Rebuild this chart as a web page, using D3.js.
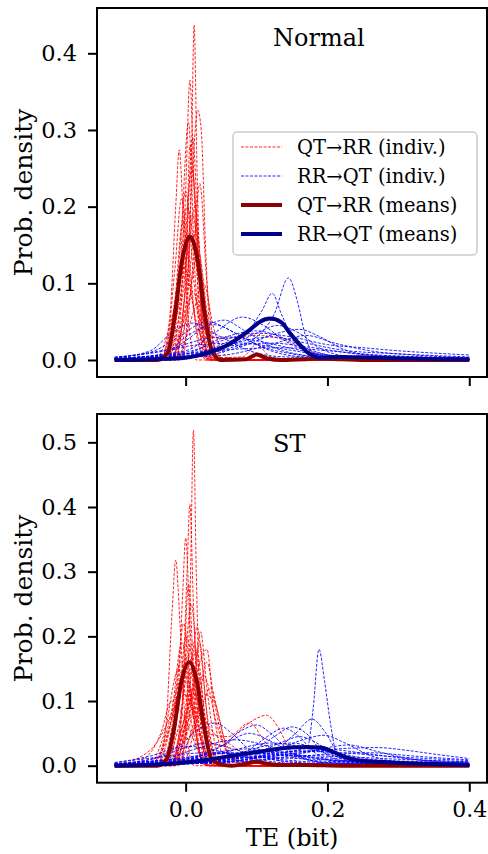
<!DOCTYPE html>
<html>
<head>
<meta charset="utf-8">
<script src="https://cdn.jsdelivr.net/npm/d3@7"></script>
<style>
  body { margin: 0; background: #fff; }
</style>
</head>
<body>
<div id="chart"></div>
<script>
var W = 488, H = 854;
var FONT = "'DejaVu Serif', 'Liberation Serif', serif";

// x ticks and y ticks
var xTicks = [0.0, 0.2, 0.4];
var yTicksTop = [0.0, 0.1, 0.2, 0.3, 0.4];
var yTicksBot = [0.0, 0.1, 0.2, 0.3, 0.4, 0.5];
var panelTitles = ["Normal", "ST"];
var legendLabels = ["QT\u2192RR (indiv.)", "RR\u2192QT (indiv.)", "QT\u2192RR (means)", "RR\u2192QT (means)"];

// ---- top panel (Normal): individual densities ----
var topRed = [
  [[-0.1,0],[-0.01,0],[0.0,0.03],[0.008,0.25],[0.012,0.437],[0.016,0.25],[0.024,0.03],[0.035,0],[0.4,0]],
  [[-0.1,0],[-0.02,0],[-0.008,0.05],[0.0,0.22],[0.006,0.365],[0.012,0.22],[0.02,0.05],[0.032,0],[0.4,0]],
  [[-0.1,0],[-0.01,0],[0.0,0.06],[0.01,0.25],[0.017,0.326],[0.022,0.3],[0.028,0.15],[0.036,0.02],[0.05,0],[0.4,0]],
  [[-0.1,0],[-0.035,0],[-0.022,0.06],[-0.014,0.2],[-0.009,0.274],[-0.004,0.2],[0.004,0.05],[0.015,0],[0.4,0]],
  [[-0.1,0],[-0.025,0],[-0.01,0.08],[0.004,0.31],[0.014,0.1],[0.03,0],[0.4,0]],
  [[-0.1,0],[-0.02,0],[-0.005,0.1],[0.009,0.25],[0.02,0.1],[0.035,0.005],[0.05,0],[0.4,0]],
  [[-0.1,0],[-0.03,0.005],[-0.012,0.1],[0.0,0.22],[0.012,0.1],[0.028,0.005],[0.045,0],[0.4,0]],
  [[-0.1,0],[-0.02,0],[0.0,0.09],[0.013,0.2],[0.025,0.08],[0.04,0.005],[0.055,0],[0.4,0]],
  [[-0.1,0],[-0.035,0.003],[-0.015,0.08],[-0.004,0.18],[0.008,0.09],[0.025,0.005],[0.04,0],[0.4,0]],
  [[-0.1,0],[-0.03,0.005],[-0.01,0.07],[0.008,0.16],[0.025,0.06],[0.045,0.005],[0.06,0],[0.4,0]],
  [[-0.1,0],[-0.02,0.002],[0.0,0.05],[0.018,0.14],[0.032,0.05],[0.05,0.003],[0.065,0],[0.4,0]],
  [[-0.1,0],[-0.04,0.004],[-0.018,0.06],[-0.002,0.12],[0.015,0.05],[0.035,0.004],[0.05,0],[0.4,0]],
  [[-0.1,0],[-0.015,0],[-0.002,0.08],[0.01,0.29],[0.02,0.1],[0.032,0.005],[0.045,0],[0.4,0]],
  [[-0.1,0],[-0.02,0.002],[0.0,0.06],[0.01,0.09],[0.025,0.04],[0.05,0.028],[0.1,0.032],[0.14,0.026],[0.17,0.014],[0.2,0.004],[0.25,0],[0.4,0]],
  [[-0.1,0],[-0.025,0.002],[-0.005,0.08],[0.01,0.19],[0.025,0.05],[0.045,0.003],[0.08,0.004],[0.1,0.02],[0.12,0.004],[0.15,0],[0.4,0]],
  [[-0.1,0],[-0.005,0.002],[0.01,0.12],[0.02,0.23],[0.03,0.1],[0.045,0.003],[0.06,0],[0.4,0]],
  [[-0.1,0],[-0.01,0.005],[0.01,0.06],[0.025,0.1],[0.04,0.04],[0.06,0.003],[0.08,0],[0.4,0]],
  [[-0.1,0],[-0.025,0.002],[-0.01,0.09],[0.002,0.2],[0.012,0.15],[0.025,0.03],[0.04,0],[0.4,0]],
  [[-0.1,0],[-0.015,0.002],[0.0,0.1],[0.006,0.28],[0.014,0.2],[0.024,0.04],[0.036,0],[0.4,0]],
  [[-0.1,0],[-0.02,0.004],[0.0,0.07],[0.015,0.17],[0.022,0.12],[0.035,0.02],[0.05,0.003],[0.07,0],[0.4,0]],
  [[-0.1,0],[-0.03,0.004],[-0.015,0.12],[-0.006,0.21],[0.004,0.14],[0.018,0.02],[0.03,0],[0.4,0]]
];

var topBlue = [
  [[-0.1,0.001],[0.0,0.004],[0.06,0.015],[0.1,0.03],[0.125,0.06],[0.145,0.107],[0.158,0.075],[0.168,0.035],[0.18,0.008],[0.22,0.002],[0.4,0.001]],
  [[-0.1,0.001],[0.0,0.005],[0.05,0.02],[0.09,0.04],[0.108,0.065],[0.122,0.087],[0.135,0.06],[0.15,0.03],[0.17,0.012],[0.2,0.004],[0.4,0.001]],
  [[-0.1,0.004],[-0.05,0.01],[-0.01,0.03],[0.03,0.05],[0.07,0.035],[0.1,0.02],[0.15,0.008],[0.2,0.003],[0.4,0.001]],
  [[-0.1,0.003],[-0.05,0.012],[-0.02,0.035],[0.01,0.048],[0.05,0.03],[0.09,0.012],[0.14,0.004],[0.4,0.001]],
  [[-0.1,0.002],[-0.03,0.008],[0.0,0.025],[0.03,0.045],[0.055,0.052],[0.08,0.04],[0.12,0.018],[0.17,0.006],[0.25,0.002],[0.4,0.001]],
  [[-0.1,0.002],[0.0,0.012],[0.04,0.035],[0.08,0.056],[0.11,0.045],[0.14,0.025],[0.18,0.01],[0.25,0.003],[0.4,0.001]],
  [[-0.1,0.002],[0.0,0.01],[0.05,0.025],[0.1,0.035],[0.15,0.03],[0.2,0.02],[0.25,0.016],[0.3,0.012],[0.35,0.009],[0.4,0.0065]],
  [[-0.1,0.001],[0.0,0.006],[0.06,0.02],[0.12,0.03],[0.17,0.022],[0.22,0.013],[0.3,0.008],[0.4,0.004]],
  [[-0.1,0.001],[0.0,0.004],[0.06,0.018],[0.1,0.035],[0.13,0.045],[0.16,0.035],[0.19,0.015],[0.23,0.005],[0.4,0.001]],
  [[-0.1,0.001],[0.02,0.005],[0.08,0.018],[0.13,0.035],[0.16,0.04],[0.19,0.03],[0.22,0.015],[0.27,0.005],[0.4,0.001]],
  [[-0.1,0.003],[-0.02,0.015],[0.03,0.028],[0.06,0.03],[0.1,0.025],[0.15,0.015],[0.2,0.006],[0.3,0.002],[0.4,0.001]],
  [[-0.1,0.001],[0.0,0.008],[0.05,0.028],[0.1,0.038],[0.14,0.028],[0.18,0.012],[0.22,0.004],[0.4,0.001]],
  [[-0.1,0.002],[0.0,0.008],[0.06,0.018],[0.12,0.022],[0.18,0.016],[0.24,0.008],[0.32,0.004],[0.4,0.002]],
  [[-0.1,0.001],[-0.03,0.008],[0.0,0.03],[0.04,0.046],[0.08,0.03],[0.12,0.012],[0.17,0.004],[0.4,0.001]],
  [[-0.1,0.001],[0.05,0.006],[0.12,0.02],[0.17,0.032],[0.21,0.022],[0.26,0.012],[0.33,0.006],[0.4,0.003]],
  [[-0.1,0.002],[0.0,0.008],[0.07,0.014],[0.14,0.016],[0.2,0.012],[0.28,0.006],[0.4,0.003]],
  [[-0.1,0.003],[-0.04,0.01],[0.02,0.02],[0.08,0.022],[0.14,0.014],[0.2,0.006],[0.4,0.001]]
];

var topRedMean = [[-0.1,0],[-0.04,0],[-0.025,0.01],[-0.015,0.06],[-0.005,0.13],[0.006,0.161],[0.017,0.13],[0.027,0.06],[0.037,0.012],[0.05,0],[0.085,0.001],[0.1,0.007],[0.115,0.002],[0.135,0],[0.17,0.001],[0.19,0.002],[0.22,0.001],[0.26,0],[0.4,0]];
var topBlueMean = [[-0.1,0],[-0.05,0.001],[0.0,0.003],[0.03,0.009],[0.06,0.02],[0.09,0.039],[0.105,0.05],[0.119,0.054],[0.135,0.049],[0.147,0.035],[0.161,0.02],[0.176,0.007],[0.19,0.003],[0.22,0.004],[0.26,0.003],[0.3,0.002],[0.4,0.001]];

// ---- bottom panel (ST) ----
var botRed = [
  [[-0.1,0],[-0.01,0],[0.0,0.05],[0.007,0.3],[0.011,0.519],[0.015,0.3],[0.022,0.05],[0.032,0],[0.4,0]],
  [[-0.1,0],[-0.02,0],[-0.006,0.08],[0.002,0.3],[0.006,0.404],[0.011,0.25],[0.02,0.05],[0.03,0],[0.4,0]],
  [[-0.1,0],[-0.025,0],[-0.012,0.08],[-0.004,0.27],[0.0,0.352],[0.006,0.22],[0.016,0.04],[0.028,0],[0.4,0]],
  [[-0.1,0],[-0.04,0],[-0.028,0.06],[-0.019,0.24],[-0.014,0.318],[-0.008,0.22],[0.0,0.06],[0.012,0],[0.4,0]],
  [[-0.1,0],[-0.015,0],[0.0,0.07],[0.01,0.17],[0.016,0.215],[0.024,0.15],[0.034,0.04],[0.048,0],[0.4,0]],
  [[-0.1,0],[-0.01,0.002],[0.005,0.08],[0.015,0.17],[0.021,0.207],[0.03,0.12],[0.042,0.03],[0.055,0],[0.4,0]],
  [[-0.1,0],[-0.04,0.002],[-0.022,0.06],[-0.005,0.19],[0.008,0.1],[0.022,0.01],[0.035,0],[0.4,0]],
  [[-0.1,0],[-0.045,0.004],[-0.02,0.07],[0.004,0.17],[0.02,0.08],[0.038,0.008],[0.05,0],[0.4,0]],
  [[-0.1,0],[-0.05,0.005],[-0.03,0.05],[-0.01,0.15],[0.005,0.08],[0.025,0.005],[0.04,0],[0.4,0]],
  [[-0.1,0],[-0.02,0.002],[0.0,0.03],[0.02,0.08],[0.035,0.12],[0.048,0.07],[0.06,0.02],[0.08,0.003],[0.1,0],[0.4,0]],
  [[-0.1,0],[-0.07,0.01],[-0.04,0.037],[-0.02,0.08],[-0.002,0.13],[0.015,0.07],[0.035,0.01],[0.06,0],[0.4,0]],
  [[-0.1,0],[-0.02,0.003],[0.0,0.06],[0.015,0.09],[0.03,0.04],[0.05,0.03],[0.072,0.05],[0.095,0.07],[0.114,0.078],[0.13,0.06],[0.145,0.028],[0.155,0.008],[0.17,0],[0.4,0]],
  [[-0.1,0],[-0.02,0.004],[0.0,0.08],[0.012,0.11],[0.03,0.05],[0.06,0.045],[0.09,0.066],[0.11,0.04],[0.13,0.01],[0.15,0],[0.4,0]],
  [[-0.1,0],[-0.02,0.002],[-0.006,0.08],[0.008,0.25],[0.02,0.08],[0.034,0.004],[0.045,0],[0.4,0]],
  [[-0.1,0],[-0.025,0.002],[0.0,0.07],[0.015,0.18],[0.028,0.07],[0.045,0.005],[0.06,0],[0.4,0]],
  [[-0.1,0],[-0.015,0],[-0.004,0.1],[0.004,0.28],[0.013,0.1],[0.024,0.004],[0.035,0],[0.4,0]],
  [[-0.1,0],[-0.02,0.003],[0.005,0.06],[0.025,0.14],[0.045,0.06],[0.065,0.008],[0.09,0],[0.4,0]],
  [[-0.1,0],[-0.06,0.01],[-0.035,0.05],[-0.02,0.1],[0.0,0.07],[0.02,0.02],[0.045,0.002],[0.06,0],[0.4,0]],
  [[-0.1,0],[-0.03,0.002],[-0.015,0.08],[-0.003,0.22],[0.01,0.09],[0.025,0.005],[0.04,0],[0.4,0]],
  [[-0.1,0],[-0.005,0.003],[0.015,0.07],[0.03,0.16],[0.042,0.09],[0.055,0.03],[0.07,0.01],[0.1,0.004],[0.13,0],[0.4,0]],
  [[-0.1,0],[-0.035,0.003],[-0.018,0.07],[-0.008,0.16],[0.004,0.12],[0.018,0.03],[0.03,0],[0.4,0]],
  [[-0.1,0],[-0.03,0.002],[-0.01,0.06],[0.01,0.19],[0.022,0.12],[0.035,0.02],[0.05,0],[0.4,0]],
  [[-0.1,0],[-0.02,0.003],[0.0,0.05],[0.02,0.16],[0.03,0.18],[0.04,0.08],[0.055,0.01],[0.07,0],[0.4,0]],
  [[-0.1,0],[-0.045,0.005],[-0.025,0.06],[-0.012,0.12],[0.0,0.14],[0.012,0.09],[0.03,0.01],[0.045,0],[0.4,0]],
  [[-0.1,0],[-0.02,0.003],[0.0,0.09],[0.006,0.15],[0.014,0.13],[0.025,0.06],[0.04,0.015],[0.06,0.002],[0.08,0],[0.4,0]],
  [[-0.1,0],[-0.03,0.003],[-0.008,0.11],[0.0,0.2],[0.008,0.17],[0.02,0.05],[0.035,0.003],[0.05,0],[0.4,0]],
  [[-0.1,0],[-0.01,0.003],[0.01,0.06],[0.025,0.11],[0.04,0.1],[0.055,0.04],[0.075,0.008],[0.1,0],[0.4,0]],
  [[-0.1,0],[-0.05,0.004],[-0.03,0.03],[-0.015,0.09],[0.0,0.11],[0.015,0.06],[0.035,0.01],[0.06,0],[0.4,0]],
  [[-0.1,0],[-0.025,0.002],[-0.005,0.06],[0.012,0.13],[0.02,0.19],[0.028,0.1],[0.04,0.02],[0.055,0],[0.4,0]],
  [[-0.1,0],[-0.015,0.002],[0.0,0.06],[0.01,0.12],[0.02,0.09],[0.04,0.05],[0.06,0.035],[0.08,0.02],[0.1,0.006],[0.12,0],[0.4,0]]
];

var botBlue = [
  [[-0.1,0.001],[0.0,0.004],[0.08,0.012],[0.14,0.02],[0.172,0.03],[0.18,0.09],[0.188,0.18],[0.196,0.13],[0.205,0.06],[0.213,0.02],[0.24,0.008],[0.3,0.004],[0.4,0.002]],
  [[-0.1,0.001],[0.05,0.005],[0.12,0.02],[0.155,0.05],[0.178,0.072],[0.198,0.05],[0.215,0.02],[0.25,0.006],[0.4,0.001]],
  [[-0.1,0.001],[0.03,0.006],[0.09,0.025],[0.115,0.045],[0.138,0.058],[0.16,0.045],[0.18,0.022],[0.21,0.007],[0.4,0.001]],
  [[-0.1,0.002],[0.0,0.01],[0.05,0.03],[0.08,0.055],[0.1,0.063],[0.12,0.05],[0.145,0.025],[0.18,0.008],[0.4,0.001]],
  [[-0.1,0.003],[-0.05,0.01],[-0.01,0.03],[0.02,0.058],[0.042,0.066],[0.065,0.05],[0.09,0.025],[0.13,0.008],[0.2,0.002],[0.4,0.001]],
  [[-0.1,0.001],[0.03,0.005],[0.09,0.02],[0.125,0.045],[0.15,0.06],[0.17,0.05],[0.19,0.025],[0.22,0.008],[0.4,0.001]],
  [[-0.1,0.001],[0.05,0.006],[0.12,0.014],[0.18,0.022],[0.23,0.027],[0.27,0.028],[0.31,0.024],[0.35,0.018],[0.4,0.011]],
  [[-0.1,0.001],[0.05,0.005],[0.12,0.02],[0.165,0.04],[0.195,0.047],[0.225,0.035],[0.26,0.016],[0.3,0.006],[0.4,0.002]],
  [[-0.1,0.002],[0.0,0.008],[0.08,0.016],[0.16,0.022],[0.22,0.02],[0.28,0.015],[0.34,0.011],[0.4,0.008]],
  [[-0.1,0.003],[-0.03,0.01],[0.02,0.028],[0.07,0.04],[0.11,0.032],[0.15,0.015],[0.2,0.005],[0.4,0.001]],
  [[-0.1,0.001],[0.0,0.008],[0.06,0.022],[0.12,0.035],[0.17,0.028],[0.22,0.012],[0.28,0.004],[0.4,0.001]],
  [[-0.1,0.004],[-0.05,0.015],[0.0,0.03],[0.05,0.022],[0.1,0.01],[0.16,0.003],[0.4,0.001]],
  [[-0.1,0.001],[0.05,0.006],[0.13,0.016],[0.2,0.025],[0.26,0.018],[0.32,0.01],[0.4,0.006]],
  [[-0.1,0.001],[0.04,0.006],[0.1,0.02],[0.14,0.038],[0.16,0.045],[0.185,0.035],[0.21,0.016],[0.25,0.005],[0.4,0.001]],
  [[-0.1,0.005],[-0.04,0.013],[0.03,0.02],[0.09,0.015],[0.16,0.007],[0.25,0.003],[0.4,0.001]],
  [[-0.1,0.001],[0.08,0.006],[0.16,0.018],[0.2,0.028],[0.23,0.032],[0.27,0.022],[0.32,0.01],[0.4,0.004]],
  [[-0.1,0.001],[0.0,0.008],[0.05,0.03],[0.09,0.05],[0.125,0.035],[0.16,0.014],[0.2,0.004],[0.4,0.001]],
  [[-0.1,0.003],[-0.04,0.012],[0.0,0.028],[0.03,0.035],[0.07,0.025],[0.12,0.01],[0.2,0.003],[0.4,0.001]],
  [[-0.1,0.002],[0.0,0.006],[0.08,0.012],[0.15,0.016],[0.22,0.014],[0.3,0.01],[0.4,0.006]],
  [[-0.1,0.002],[-0.02,0.01],[0.04,0.018],[0.1,0.02],[0.16,0.014],[0.24,0.006],[0.4,0.002]],
  [[-0.1,0.001],[0.02,0.005],[0.1,0.014],[0.17,0.024],[0.21,0.02],[0.26,0.01],[0.33,0.005],[0.4,0.003]],
  [[-0.1,0.003],[-0.03,0.008],[0.03,0.012],[0.1,0.013],[0.18,0.01],[0.28,0.006],[0.4,0.004]],
  [[-0.1,0.001],[0.04,0.008],[0.11,0.03],[0.15,0.035],[0.19,0.025],[0.24,0.01],[0.3,0.004],[0.4,0.002]],
  [[-0.1,0.002],[0.0,0.012],[0.05,0.02],[0.12,0.018],[0.2,0.012],[0.28,0.008],[0.4,0.005]],
  [[-0.1,0.001],[0.06,0.006],[0.14,0.012],[0.2,0.018],[0.26,0.02],[0.32,0.015],[0.4,0.009]],
  [[-0.1,0.002],[0.0,0.01],[0.04,0.02],[0.09,0.026],[0.14,0.02],[0.2,0.009],[0.28,0.003],[0.4,0.001]]
];

var botRedMean = [[-0.1,0],[-0.04,0],[-0.027,0.01],[-0.016,0.06],[-0.006,0.13],[0.005,0.16],[0.016,0.13],[0.026,0.06],[0.036,0.012],[0.05,0.002],[0.065,0],[0.085,0.003],[0.1,0.006],[0.115,0.003],[0.135,0.001],[0.17,0.001],[0.22,0],[0.4,0]];
var botBlueMean = [[-0.1,0],[-0.06,0.001],[-0.02,0.003],[0.01,0.006],[0.058,0.014],[0.105,0.022],[0.147,0.028],[0.17,0.029],[0.19,0.028],[0.205,0.023],[0.218,0.0165],[0.241,0.009],[0.288,0.005],[0.34,0.003],[0.4,0.001]];

var RED = "#ff0000", BLUE = "#0000ff", DRED = "#8b0000", DBLUE = "#00008b";

var svg = d3.select("#chart").append("svg")
    .attr("width", W)
    .attr("height", H)
    .attr("font-family", FONT)
    .style("font-family", FONT);

var x = d3.scaleLinear().domain([-0.125, 0.425]).range([97, 487]);

var panels = [
  { top: 8, bottom: 377, domain: [-0.0222, 0.4591], ticks: yTicksTop, red: topRed, blue: topBlue,
    redMean: topRedMean, blueMean: topBlueMean, title: panelTitles[0], titleY: 46, labels: false },
  { top: 414, bottom: 782.7, domain: [-0.0263, 0.5438], ticks: yTicksBot, red: botRed, blue: botBlue,
    redMean: botRedMean, blueMean: botBlueMean, title: panelTitles[1], titleY: 452, labels: true }
];

function styleText(sel, size) {
    sel.attr("font-size", size)
        .attr("font-family", FONT)
        .style("font-family", FONT)
        .attr("fill", "#000");
}

function drawPanel(p) {
    var y = d3.scaleLinear().domain(p.domain).range([p.bottom, p.top]);
    var g = svg.append("g");

    var line = d3.line()
        .x(function(d) { return x(d[0]); })
        .y(function(d) { return y(d[1]); })
        .curve(d3.curveMonotoneX);

    // individual curves
    g.selectAll("path.red").data(p.red).enter().append("path")
        .attr("class", "red")
        .attr("d", line)
        .attr("fill", "none")
        .attr("stroke", RED)
        .attr("stroke-opacity", 0.85)
        .attr("stroke-width", 1)
        .attr("stroke-dasharray", "3,1.5");

    g.selectAll("path.blue").data(p.blue).enter().append("path")
        .attr("class", "blue")
        .attr("d", line)
        .attr("fill", "none")
        .attr("stroke", BLUE)
        .attr("stroke-opacity", 0.85)
        .attr("stroke-width", 1)
        .attr("stroke-dasharray", "3,1.5");

    // means
    g.append("path").datum(p.redMean)
        .attr("d", line).attr("fill", "none")
        .attr("stroke", DRED).attr("stroke-width", 4);
    g.append("path").datum(p.blueMean)
        .attr("d", line).attr("fill", "none")
        .attr("stroke", DBLUE).attr("stroke-width", 4);

    // frame
    g.append("rect")
        .attr("x", 97).attr("y", p.top)
        .attr("width", 390).attr("height", p.bottom - p.top)
        .attr("fill", "none").attr("stroke", "#000").attr("stroke-width", 2);

    // y axis
    var yAxis = g.append("g")
        .attr("transform", "translate(97,0)")
        .call(d3.axisLeft(y).tickValues(p.ticks).tickSize(9).tickPadding(11)
            .tickFormat(d3.format(".1f")));
    yAxis.attr("font-family", FONT);
    yAxis.select(".domain").remove();
    yAxis.selectAll("line").attr("stroke-width", 2);
    styleText(yAxis.selectAll("text"), 22.5);

    // x axis
    var xAxis = g.append("g")
        .attr("transform", "translate(0," + p.bottom + ")")
        .call(d3.axisBottom(x).tickValues(xTicks).tickSize(9).tickPadding(10)
            .tickFormat(p.labels ? d3.format(".1f") : ""));
    xAxis.attr("font-family", FONT);
    xAxis.select(".domain").remove();
    xAxis.selectAll("line").attr("stroke-width", 2);
    styleText(xAxis.selectAll("text"), 22);

    // y label
    styleText(g.append("text")
        .attr("transform", "translate(23," + ((p.top + p.bottom) / 2) + ") rotate(-90)")
        .attr("text-anchor", "middle")
        .attr("dy", "0.35em")
        .text("Prob. density"), 25);

    // title
    styleText(g.append("text")
        .attr("x", 273).attr("y", p.titleY)
        .text(p.title), 24);
}

panels.forEach(drawPanel);

// x label
styleText(svg.append("text")
    .attr("x", 292).attr("y", 846)
    .attr("text-anchor", "middle")
    .text("TE (bit)"), 24);

// legend
var leg = svg.append("g");
leg.append("rect")
    .attr("x", 233).attr("y", 132)
    .attr("width", 244).attr("height", 123)
    .attr("rx", 4)
    .attr("fill", "#fff").attr("fill-opacity", 0.8)
    .attr("stroke", "#cccccc").attr("stroke-width", 1.5);

var legStyles = [
  { color: RED, width: 1, dash: "3,1.5", op: 0.85 },
  { color: BLUE, width: 1, dash: "3,1.5", op: 0.85 },
  { color: DRED, width: 4, dash: null, op: 1 },
  { color: DBLUE, width: 4, dash: null, op: 1 }
];
var legY = [147, 176, 205, 234];

legendLabels.forEach(function(lbl, i) {
    var s = legStyles[i];
    leg.append("line")
        .attr("x1", 241).attr("x2", 282)
        .attr("y1", legY[i]).attr("y2", legY[i])
        .attr("stroke", s.color)
        .attr("stroke-width", s.width)
        .attr("stroke-opacity", s.op)
        .attr("stroke-dasharray", s.dash);
    styleText(leg.append("text")
        .attr("x", 297).attr("y", legY[i])
        .attr("dy", "0.35em")
        .text(lbl), 19.5);
});
</script>
</body>
</html>
